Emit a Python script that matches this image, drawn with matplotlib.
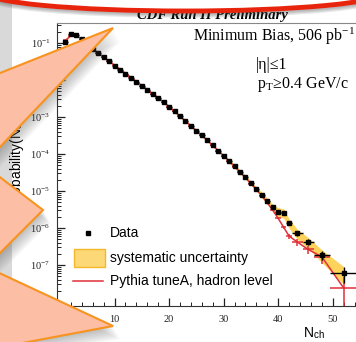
import numpy as np
import matplotlib.pyplot as plt
from matplotlib.patches import Polygon, Ellipse, Rectangle
from matplotlib.ticker import LogLocator, LogFormatterMathtext, MultipleLocator, NullFormatter, FixedLocator

plt.rcParams['font.family'] = 'Liberation Serif'
plt.rcParams['mathtext.fontset'] = 'stix'

# charged multiplicity bins (last ones are merged)
nch = list(range(1, 43)) + [43.5, 45.5, 48, 52]
bin_half = [0.5] * 42 + [1.0, 1.0, 1.5, 2.5]

# log10 of the probability, data
data_log = [-0.97, -0.76, -0.78, -0.90, -1.03, -1.16, -1.28, -1.39, -1.50, -1.61,
            -1.72, -1.83, -1.94, -2.05, -2.16, -2.27, -2.38, -2.49, -2.60, -2.72,
            -2.85, -2.98, -3.11, -3.24, -3.37, -3.50, -3.63, -3.77, -3.91, -4.05,
            -4.19, -4.33, -4.48, -4.63, -4.78, -4.94, -5.10, -5.27, -5.43, -5.56,
            -5.59, -5.86, -6.15, -6.38, -6.73, -7.22]
data_stat = [0.01] * 39 + [0.08, 0.08, 0.10, 0.15, 0.18, 0.25, 0.45]
data_sys = [0.04] * 10 + [0.05] * 10 + [0.08] * 10 + [0.12] * 6 + [0.18] * 3 + \
           [0.28, 0.28, 0.28, 0.30, 0.32, 0.38, 0.50]

# pythia tune A, hadron level
pyth_log = [-0.93, -0.80, -0.80, -0.90, -1.02, -1.15, -1.27, -1.38, -1.49, -1.60,
            -1.71, -1.82, -1.93, -2.04, -2.15, -2.26, -2.37, -2.48, -2.60, -2.72,
            -2.85, -2.98, -3.11, -3.24, -3.37, -3.50, -3.63, -3.77, -3.91, -4.05,
            -4.19, -4.34, -4.49, -4.64, -4.80, -4.96, -5.13, -5.32, -5.52, -5.74,
            -5.98, -6.22, -6.38, -6.58, -6.78, -7.62]
pyth_stat = [0.02] * 39 + [0.06, 0.08, 0.15, 0.20, 0.25, 0.35, 1.0]

x_labels = [10, 20, 30, 40, 50]
y_decades = [1e-7, 1e-6, 1e-5, 1e-4, 1e-3, 1e-2, 1e-1]

prob = 10.0 ** np.array(data_log)
pyth = 10.0 ** np.array(pyth_log)
sys_lo = prob * (1 - np.array(data_sys))
sys_hi = prob * (1 + np.array(data_sys))

W, H = 356, 342
fig = plt.figure(figsize=(W / 100, H / 100), dpi=100)
fig.patch.set_facecolor('white')

# page background
bg = fig.add_axes([0, 0, 1, 1], zorder=0)
bg.set_xlim(0, W)
bg.set_ylim(H, 0)
bg.set_axis_off()
bg.add_patch(Rectangle((0, 0), 12, H, facecolor='#d9d9d9', edgecolor='none'))

ax = fig.add_axes([57.25 / W, (H - 306) / H, 300 / W, 283 / H], zorder=1)
ax.set_yscale('log')
ax.set_xlim(-0.5, 54.5)
ax.set_ylim(10 ** -8.11, 10 ** -0.46)

red = '#e0303a'
ax.fill_between(nch, sys_lo, sys_hi, color='#fdd35c', lw=0, zorder=1)
ax.plot(nch, pyth, color=red, lw=1.1, zorder=2)
ax.errorbar(nch, pyth, xerr=bin_half, yerr=pyth * np.array(pyth_stat),
            fmt='none', ecolor=red, elinewidth=1.1, zorder=2)
ax.errorbar(nch, prob, xerr=bin_half, yerr=prob * np.array(data_stat),
            fmt='s', color='black', ms=2.5, elinewidth=1.0, zorder=3)

ax.xaxis.set_major_locator(FixedLocator(x_labels))
ax.xaxis.set_minor_locator(MultipleLocator(2))
ax.yaxis.set_major_locator(FixedLocator(y_decades))
ax.yaxis.set_minor_locator(LogLocator(base=10, subs=np.arange(2, 10), numticks=20))
ax.yaxis.set_major_formatter(LogFormatterMathtext())
ax.yaxis.set_minor_formatter(NullFormatter())
ax.tick_params(which='both', direction='in', top=False, right=False, labelsize=7.5, colors='#222')
ax.tick_params(which='major', length=6, width=0.9)
ax.tick_params(which='minor', length=3, width=0.7)
ax.tick_params(axis='x', pad=6.5)
ax.tick_params(axis='y', pad=5)
for s in ax.spines.values():
    s.set_color('#333')
ax.spines['top'].set_color('#888')

# overlay in pixel coordinates
fg = fig.add_axes([0, 0, 1, 1], zorder=2)
fg.set_xlim(0, W)
fg.set_ylim(H, 0)
fg.set_axis_off()
fg.patch.set_visible(False)

sans = 'Liberation Sans'
fg.text(17, 112, 'Probability(N$_{\\mathregular{ch}}$)', rotation=90, rotation_mode='anchor',
        ha='right', va='center', family=sans, fontsize=10)
fg.text(303, 333, 'N$_{\\mathregular{ch}}$', ha='left', va='center', family=sans, fontsize=10)

fg.text(355, 36, 'Minimum Bias, 506 pb$^{\\mathregular{-1}}$', ha='right', va='center', fontsize=11.5)
fg.text(256, 65, '|η|≤1', ha='left', va='center', fontsize=11.5)
fg.text(257, 85, 'p$_{\\mathregular{T}}$≥0.4 GeV/c', ha='left', va='center', fontsize=11.5)

# legend
fg.plot([88], [233], 's', color='black', ms=3.5)
fg.text(110, 233, 'Data', ha='left', va='center', family=sans, fontsize=10)
fg.add_patch(Rectangle((74, 249), 31, 18, facecolor='#fdd877', edgecolor='#f5b82a', lw=1))
fg.text(110, 258, 'systematic uncertainty', ha='left', va='center', family=sans, fontsize=10)
fg.plot([73, 103], [281, 281], color=red, lw=1.1)
fg.text(110, 281, 'Pythia tuneA, hadron level', ha='left', va='center', family=sans, fontsize=10)

fg.text(212, 16, 'CDF Run II Preliminary', ha='center', va='center', fontsize=10.5,
        fontweight='bold', style='italic')

# callout shapes with soft shadows
callouts = [
    [(113, 28), (-20, 81), (-20, 168)],
    [(43, 210), (-20, 162), (-20, 273)],
    [(113, 326), (-20, 264), (-20, 351)],
]
for pts in callouts:
    for k in range(1, 9):
        shifted = [(x + 0.9 * k, y + 1.6 * k) for x, y in pts]
        fg.add_patch(Polygon(shifted, closed=True, facecolor='#505050', edgecolor='none',
                             alpha=0.05, zorder=4))
for pts in callouts:
    fg.add_patch(Polygon(pts, closed=True, facecolor='#fcbea4', edgecolor='#f7931e',
                         lw=1.5, joinstyle='miter', zorder=5))

# red oval at the top
for k in range(1, 5):
    fg.add_patch(Ellipse((185, -8 + 1.2 * k), 400, 38, fill=False, edgecolor='#404040',
                         lw=3, alpha=0.12, zorder=6))
fg.add_patch(Ellipse((185, -8), 400, 38, facecolor='white', edgecolor='#e8250c', lw=3.5, zorder=7))

fig.savefig('out.png', dpi=100)
